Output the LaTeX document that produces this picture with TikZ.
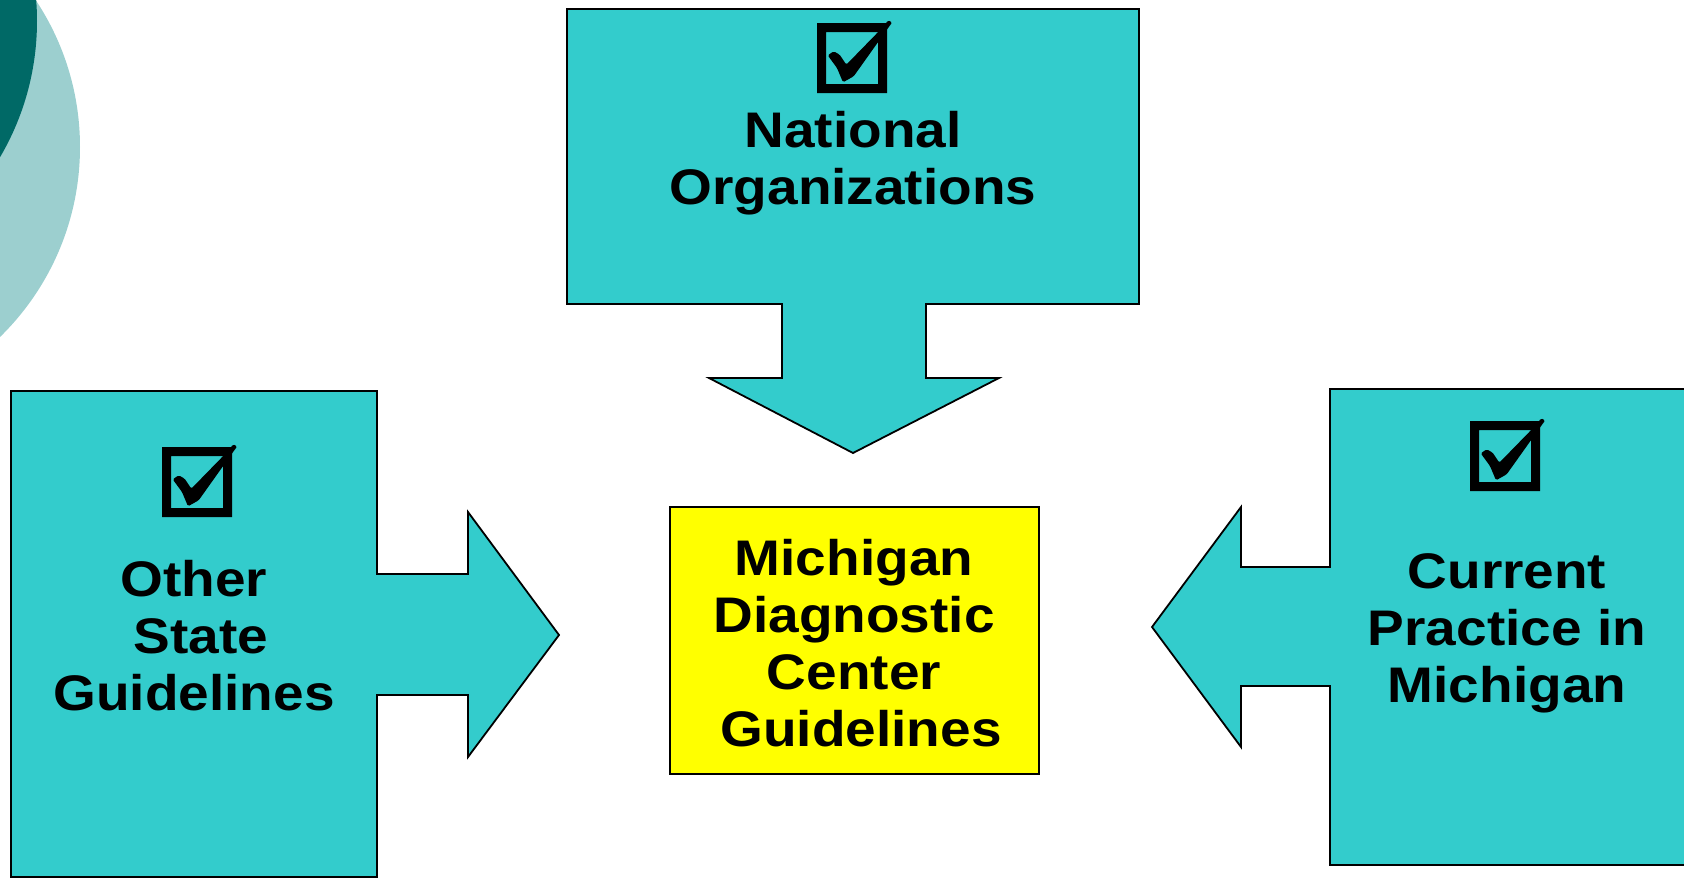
\documentclass[tikz,border=0pt]{standalone}
\usepackage{fontspec}
\newfontfamily\labfont{Liberation Sans}[FakeStretch=1.1]
\definecolor{tealfill}{HTML}{33CCCC}
\definecolor{lightteal}{HTML}{9CCFCF}
\definecolor{darkteal}{HTML}{006966}
\definecolor{yell}{HTML}{FFFF00}
\tikzset{
  callout/.style={fill=tealfill, draw=black, line width=1.8pt, line join=miter},
  centerbox/.style={fill=yell, draw=black, line width=1.8pt},
  lab/.style={anchor=base, inner sep=0pt, font=\labfont\bfseries\fontsize{50}{57}\selectfont},
  chk/.pic={
    \fill[black, even odd rule] (0,0) rectangle (70,70) (9,9) rectangle (61,61);
    \fill[black, rounded corners=1.5pt] (10.7,32.3) -- (16.7,28.3) -- (22.7,31.7) -- (29.3,41.7)
      -- (68.3,1.7) -- (70.7,-2.7) -- (75.3,-0.7) -- (72.7,2.7) -- (36.7,53.3)
      -- (26,59.3) -- (20,45) -- cycle;
  }
}
\begin{document}
\begin{tikzpicture}[x=1pt, y=-1pt]
\useasboundingbox (0,0) rectangle (1684,878);
\clip (0,0) rectangle (1684,878);
% decorative circles
\fill[lightteal] (-185.6,147) circle (265.6);
\fill[darkteal] (-232,21) circle (269);
% top callout
\draw[callout] (567,9) -- (1139,9) -- (1139,304) -- (926,304) -- (926,378) -- (999,378)
  -- (853,453) -- (709,378) -- (782,378) -- (782,304) -- (567,304) -- cycle;
% left callout
\draw[callout] (11,391) -- (377,391) -- (377,574) -- (468,574) -- (468,512) -- (559,635)
  -- (468,757) -- (468,695) -- (377,695) -- (377,877) -- (11,877) -- cycle;
% right callout
\draw[callout] (1330,389) -- (1700,389) -- (1700,865) -- (1330,865) -- (1330,686)
  -- (1241,686) -- (1241,747) -- (1152,627) -- (1241,507) -- (1241,567) -- (1330,567) -- cycle;
% center box
\node (mdc) [centerbox, minimum width=369pt, minimum height=267pt, inner sep=0pt] at (854.5,640.5) {};
% checkboxes
\pic at (817,23) {chk};
\pic at (162,447) {chk};
\pic at (1470,421) {chk};
% labels
\node (nat) [lab] at (853,147) {\begin{tabular}[t]{@{}c@{}}National\\Organizations\end{tabular}};
\node (oth) [lab] at (194,596) {\begin{tabular}[t]{@{}c@{}}Other\\\hspace*{0.28em}State\\Guidelines\end{tabular}};
\node (cur) [lab] at (1507,588) {\begin{tabular}[t]{@{}c@{}}Current\\Practice in\\Michigan\end{tabular}};
\node (mdctxt) [lab] at (854,575) {\begin{tabular}[t]{@{}c@{}}Michigan\\Diagnostic\\Center\\\hspace*{0.28em}Guidelines\end{tabular}};
\end{tikzpicture}
\end{document}
